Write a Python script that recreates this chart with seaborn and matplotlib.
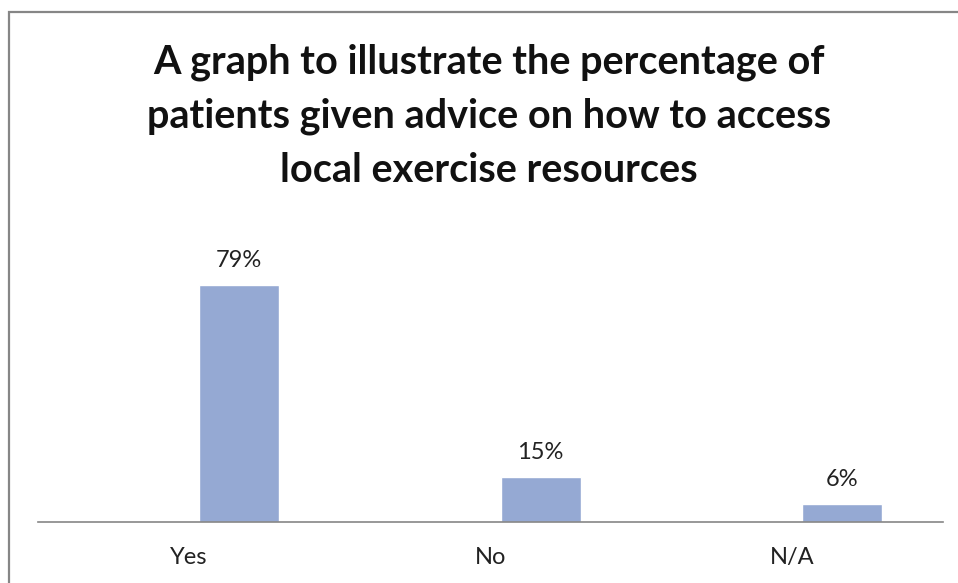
import matplotlib
matplotlib.use("Agg")
import matplotlib.pyplot as plt
import seaborn as sns
import pandas as pd
from matplotlib.patches import Rectangle

categories = ["Yes", "No", "N/A"]
percentages = [79, 15, 6]
title_lines = [
    "A graph to illustrate the percentage of",
    "patients given advice on how to access",
    "local exercise resources",
]

sns.set_style("white")
plt.rcParams["font.family"] = ["Lato", "DejaVu Sans"]

W, H = 958, 583
fig = plt.figure(figsize=(W / 100, H / 100), dpi=100)

# outer chart frame
fig.patches.append(Rectangle((9 / W, -0.05), 1.2, (H - 12) / H + 0.05,
                             transform=fig.transFigure, fill=False,
                             edgecolor="#868686", linewidth=1.6))

ymax = 90
base_px = 521.7
top_px = base_px - 3.0 * ymax
ax = fig.add_axes([38 / W, (H - base_px) / H, (943 - 38) / W, (base_px - top_px) / H])

df = pd.DataFrame({"category": categories, "pct": percentages})
sns.barplot(data=df, x="category", y="pct", color="#95A9D3", saturation=1,
            width=0.265, ax=ax)

# bars sit to the right of their category slot (second slot of a cluster)
for p in ax.patches:
    p.set_x(p.get_x() + 0.166)

ax.set_xlim(-0.5, 2.5)
ax.set_ylim(0, ymax)
for c in ax.containers:
    ax.bar_label(c, labels=[f"{v}%" for v in percentages], padding=10,
                 fontsize=17, color="#222222", clip_on=False)

for s in ["top", "right", "left"]:
    ax.spines[s].set_visible(False)
ax.spines["bottom"].set_color("#868686")
ax.spines["bottom"].set_linewidth(1.2)
ax.set_yticks([])
ax.set_xlabel("")
ax.set_ylabel("")
ax.tick_params(axis="x", length=0, pad=18, labelsize=17, labelcolor="#222222")

fig.text(489 / W, 1 - 116 / H, "\n".join(title_lines), ha="center", va="center",
         fontsize=28.5, fontweight="bold", color="#111111", linespacing=1.55)

fig.savefig("out.png", dpi=100)
